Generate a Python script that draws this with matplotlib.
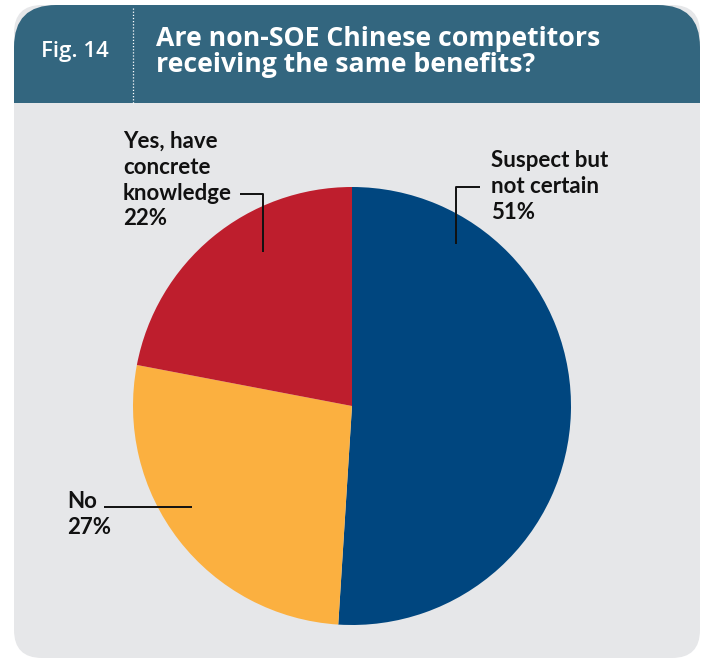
"""Fig. 14 survey pie: are non-SOE Chinese competitors receiving the same benefits?"""
import matplotlib
matplotlib.use("Agg")
import matplotlib.pyplot as plt
from matplotlib.patches import FancyBboxPatch, Rectangle

labels = ["Suspect but\nnot certain", "No", "Yes, have\nconcrete\nknowledge"]
shares = [51, 27, 22]
colors = ["#00467f", "#fbb040", "#be1e2d"]

HEADER = "#33667f"
PANEL = "#e6e7e9"
W, H = 704, 660

fig = plt.figure(figsize=(W / 100, H / 100), dpi=100)
ax = fig.add_axes([0, 0, 1, 1])


def y(v):
    # work in pixel rows measured from the top
    return H - v


# panel and header band
ax.add_patch(FancyBboxPatch((14 + 28, y(658) + 28), 686 - 56, 653 - 56,
                            boxstyle="round,pad=28", fc=PANEL, ec="none"))
ax.add_patch(FancyBboxPatch((14 + 42, y(150) + 42), 686 - 84, 145 - 84,
                            boxstyle="round,pad=42", fc=HEADER, ec="none"))
ax.add_patch(Rectangle((14, y(170)), 686, 67, fc=PANEL, ec="none"))

ax.plot([133, 133], [y(8), y(103)], color="white", lw=0.9, ls=(0, (1, 1.5)))
ax.text(75, y(52), "Fig. 14", color="white", fontsize=16, fontfamily="Open Sans",
        fontweight="semibold", ha="center", va="center")
ax.text(156, y(52), "Are non-SOE Chinese competitors\nreceiving the same benefits?",
        color="white", fontsize=19.2, fontfamily="Open Sans", fontweight="bold",
        ha="left", va="center", linespacing=1.0)

# pie, clockwise from twelve o'clock
cx, cy, r = 352, y(406), 219
ax.pie(shares, colors=colors, startangle=90, counterclock=False,
       center=(cx, cy), radius=r, wedgeprops=dict(linewidth=0))

lab_kw = dict(fontsize=16, fontfamily="Lato", fontweight="bold", color="#111111",
              ha="left", va="top", linespacing=1.28)
ax.text(491, y(150), f"{labels[0]}\n{shares[0]}%", **lab_kw)
ax.text(67, y(491), f"{labels[1]}\n{shares[1]}%", **lab_kw)
ax.text(123, y(131), f"{labels[2]}\n{shares[2]}%", **lab_kw)

lk = dict(color="#111111", lw=1.4, solid_capstyle="butt")
ax.plot([480, 456, 456], [y(187), y(187), y(244)], **lk)
ax.plot([104, 192], [y(507), y(507)], **lk)
ax.plot([240, 263, 263], [y(194), y(194), y(252)], **lk)

ax.set_xlim(0, W)
ax.set_ylim(0, H)
ax.set_aspect("equal")
ax.axis("off")
fig.savefig("out.png", dpi=100, facecolor="white")
